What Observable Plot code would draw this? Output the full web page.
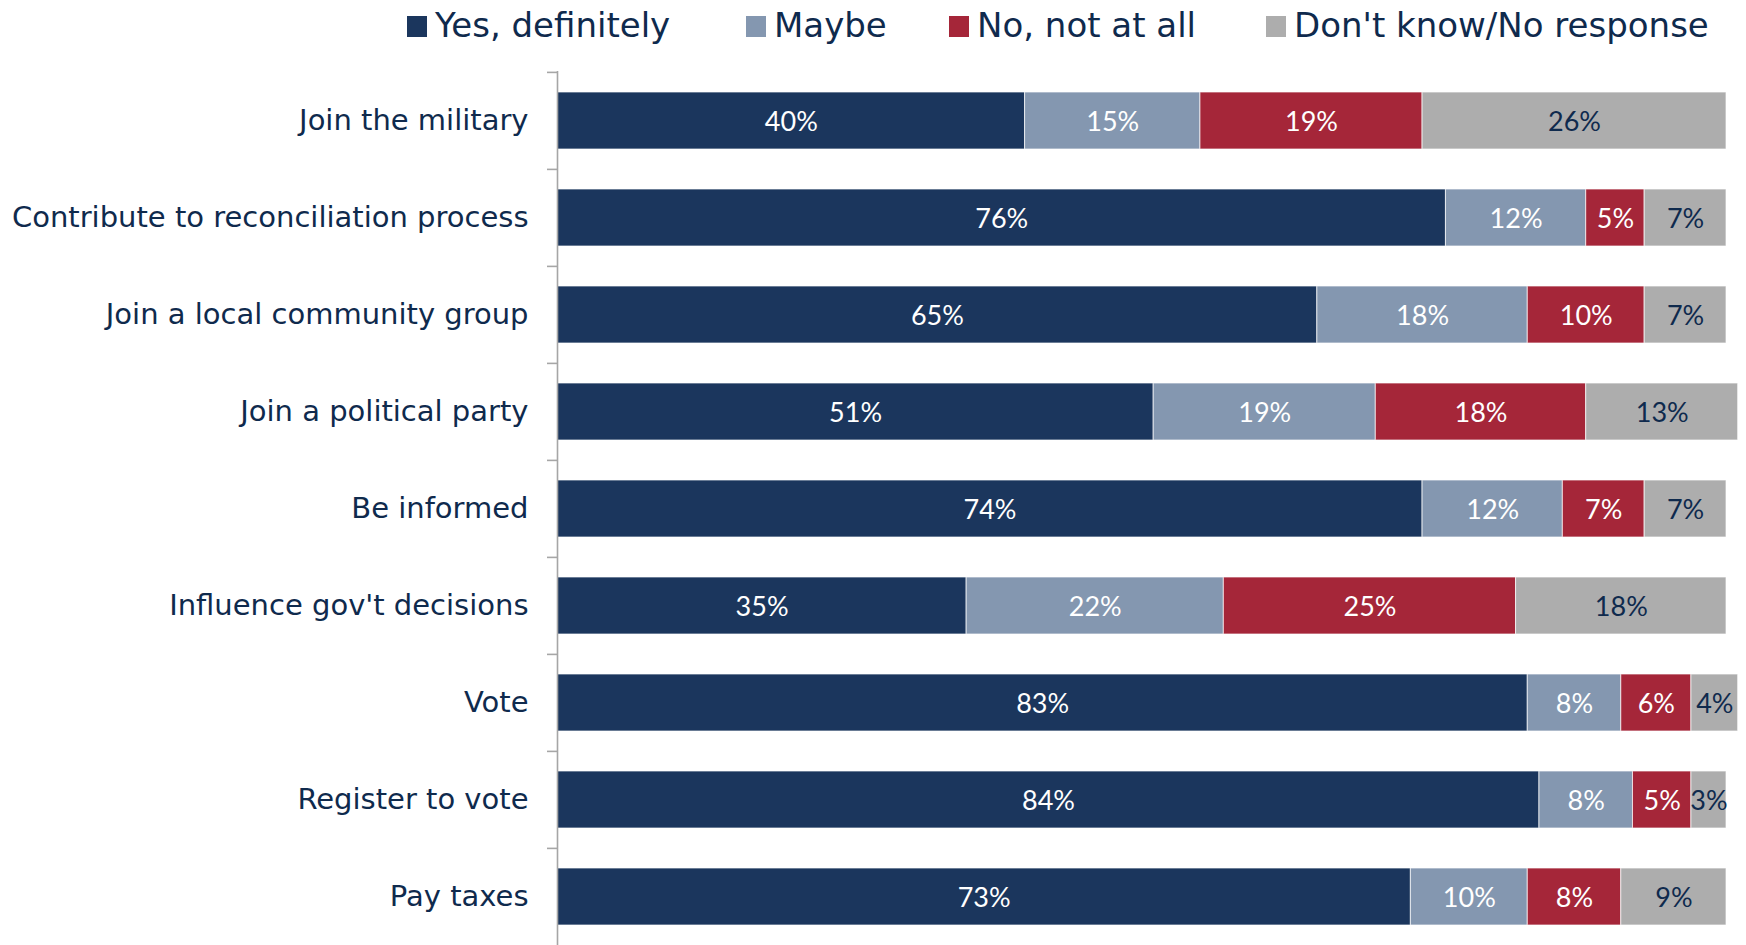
<!DOCTYPE html>
<html><head><meta charset="utf-8">
<script src="https://cdn.jsdelivr.net/npm/d3@7"></script>
<script src="https://cdn.jsdelivr.net/npm/@observablehq/plot@0.6"></script>
<style>
html,body{margin:0;padding:0;background:#fff;overflow:hidden;width:1746px;height:945px;}
#legend{position:relative;height:56px;font-family:"DejaVu Sans",sans-serif;font-size:34px;color:#0f2a4d;}
.item{position:absolute;top:5px;display:flex;align-items:baseline;white-space:nowrap;line-height:normal}
.sw{display:inline-block;width:20px;height:21px;margin-right:8px}
#chart svg{display:block}
</style></head><body>
<div id="legend"></div><div id="chart"></div>
<script>
const items = ["Join the military","Contribute to reconciliation process","Join a local community group","Join a political party","Be informed","Influence gov't decisions","Vote","Register to vote","Pay taxes"];
const responses = ["Yes, definitely","Maybe","No, not at all","Don't know/No response"];
const yes   = [40,76,65,51,74,35,83,84,73];
const maybe = [15,12,18,19,12,22,8,8,10];
const no    = [19,5,10,18,7,25,6,5,8];
const dk    = [26,7,7,13,7,18,4,3,9];
const colors = ["#1b365d","#8497b0","#a52639","#adadad"];
const navy = "#0f2a4d";

const series = [yes, maybe, no, dk];
const data = [];
items.forEach((item, i) => responses.forEach((resp, j) => data.push({item, resp, value: series[j][i]})));

// legend
const legendLeft = [407, 746, 949, 1266];
const lg = document.getElementById("legend");
responses.forEach((r, j) => {
  const d = document.createElement("div");
  d.className = "item"; d.style.left = legendLeft[j] + "px";
  const s = document.createElement("span"); s.className = "sw"; s.style.background = colors[j];
  const t = document.createElement("span"); t.textContent = r;
  d.appendChild(s); d.appendChild(t); lg.appendChild(d);
});

const height = 890, marginTop = 15, marginBottom = 0;
const step = (height - marginTop - marginBottom) / items.length;
const dkName = responses[3];

const chart = Plot.plot({
  width: 1746, height, marginTop, marginBottom, marginLeft: 557, marginRight: 20,
  style: {background: "white"},
  x: {domain: [0, 100], axis: null},
  y: {domain: items, paddingInner: 0.41, paddingOuter: 0.205, label: null},
  color: {domain: responses, range: colors},
  marks: [
    Plot.barX(data, Plot.stackX({x: "value", y: "item", z: "resp", fill: "resp", stroke: "white", strokeOpacity: 0.7, strokeWidth: 1})),
    Plot.text(data, Plot.stackX({x: "value", y: "item", z: "resp",
      text: d => d.resp !== dkName ? d.value + "%" : "", fill: "white",
      fontFamily: "Lato, sans-serif", fontSize: 27, dy: 1})),
    Plot.text(data, Plot.stackX({x: "value", y: "item", z: "resp",
      text: d => d.resp === dkName ? d.value + "%" : "", fill: navy,
      fontFamily: "Lato, sans-serif", fontSize: 27, dy: 1})),
    Plot.axisY({tickSize: 0, tickPadding: 29, fontSize: 29, fontFamily: "DejaVu Sans, sans-serif", fill: navy, label: null}),
    Plot.axisY({tickSize: 10, tickFormat: () => "", dy: -step / 2, stroke: "#a6a6a6", strokeWidth: 1.6, label: null}),
    Plot.ruleX([0], {stroke: "#a6a6a6", strokeWidth: 1.6})
  ]
});
document.getElementById("chart").appendChild(chart);
</script>
</body></html>
